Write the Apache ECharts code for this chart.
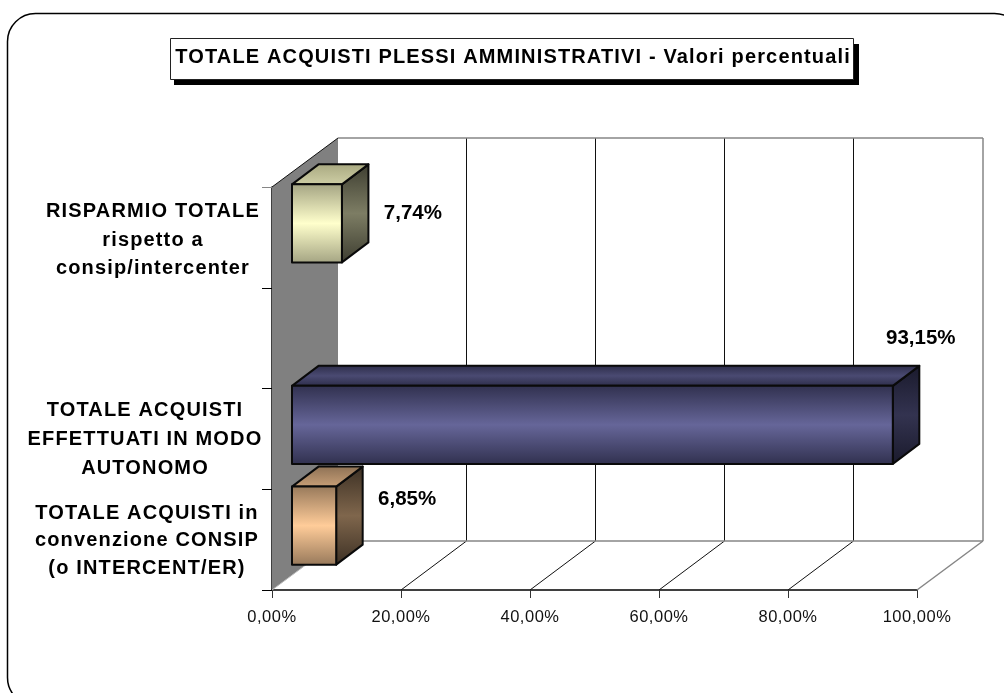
<!DOCTYPE html>
<html><head><meta charset="utf-8">
<style>html,body{margin:0;padding:0;background:#fff}#c{width:1004px;height:693px}</style>
<script src="https://cdn.jsdelivr.net/npm/echarts@6/dist/echarts.min.js"></script>
</head><body><div id="c"></div>
<script>
var chartTitle = 'TOTALE ACQUISTI PLESSI AMMINISTRATIVI - Valori percentuali';
var categories = [
  'RISPARMIO TOTALE\nrispetto a\nconsip/intercenter',
  '',
  'TOTALE ACQUISTI\nEFFETTUATI IN MODO\nAUTONOMO',
  'TOTALE ACQUISTI in\nconvenzione CONSIP\n(o INTERCENT/ER)'
];
var values = [7.74, null, 93.15, 6.85];
var xTicks = [0, 20, 40, 60, 80, 100];

var FONT = '"Liberation Sans", Arial, sans-serif';
var DEPTH = {dx: 66, dy: -49};
var BAR = {inset: 20, lift: -14, depthX: 26.5, depthY: -20, ratio: 0.775};
var LABEL_NUDGE = [[71, -10], null, [28, -87], [71, -26]];
var LINE_SHIFT = ['a', '', 'b', 'c'];
var PALETTE = [
  {front: ['#a3a382', '#ffffcc', '#a3a382'], top: ['#a8a880', '#cfcfa6'], side: ['#3d3d30', '#7d7d64', '#3d3d30']},
  null,
  {front: ['#30304e', '#666699', '#30304e'], top: ['#2c2c48', '#4a4a72', '#2c2c48'], side: ['#1a1a2c', '#333350', '#1a1a2c']},
  {front: ['#96785a', '#ffcc99', '#96785a'], top: ['#8c7054', '#c9a078'], side: ['#3c3024', '#7f664c', '#3c3024']}
];
// The reference text has the loose spacing of hinted GDI text: widen glyph runs, keeping each run centred.
var TRACKING = [[/bold 20px/, 1.15], [/16\.5px/, 0.5]];
(function () {
  var proto = CanvasRenderingContext2D.prototype, orig = proto.fillText;
  proto.fillText = function (text, x, y, maxW) {
    var s = 0;
    TRACKING.forEach(function (t) { if (!s && t[0].test(this.font)) s = t[1]; }, this);
    this.letterSpacing = s + 'px';
    if (this.textAlign === 'left' || this.textAlign === 'start') x -= (String(text).length - 1) * s / 2;
    if (maxW === undefined) orig.call(this, text, x, y); else orig.call(this, text, x, y, maxW);
    this.letterSpacing = '0px';
  };
})();
function grad(stops) {
  return new echarts.graphic.LinearGradient(0, 0, 0, 1, stops.map(function (c, i) {
    return {offset: i / (stops.length - 1), color: c};
  }));
}
function poly(pts, fill, stroke, w) {
  return {type: 'polygon', shape: {points: pts},
    style: {fill: fill, stroke: stroke || null, lineWidth: w === undefined ? 2 : w, lineJoin: 'round'}};
}
function line(a, b, color, w) {
  return {type: 'line', shape: {x1: a[0], y1: a[1], x2: b[0], y2: b[1]},
    style: {stroke: color, lineWidth: w || 1}};
}
function renderFrame(params, api) {
  var lastCat = categories.length - 1;
  var band = api.size([0, 1])[1];
  var topL = api.coord([0, 0]); topL = [topL[0], topL[1] - band / 2];
  var botL = api.coord([0, lastCat]); botL = [botL[0], botL[1] + band / 2];
  var botR = [api.coord([100, lastCat])[0], botL[1]];
  function back(p) { return [p[0] + DEPTH.dx, p[1] + DEPTH.dy]; }
  var gray = '#868686', ch = [];
  ch.push(poly([topL, back(topL), back(botL), botL], '#808080', null));
  xTicks.slice(1, -1).forEach(function (t) {
    var f = [api.coord([t, lastCat])[0], botL[1]];
    var bx = back(f)[0] - 0.5;
    ch.push(line(f, [bx, back(f)[1]], '#111'));
    ch.push(line([bx, back(f)[1]], [bx, back(topL)[1]], '#111'));
  });
  var backTopR = [botR[0] + DEPTH.dx, back(topL)[1]];
  ch.push(line(back(topL), backTopR, gray, 1.5));
  ch.push(line(backTopR, back(botR), gray, 1.5));
  ch.push(line(back(botL), back(botR), gray, 1.5));
  ch.push(line(botR, back(botR), gray, 1.5));
  ch.push(line(topL, back(topL), '#111'));
  ch.push(line(botL, back(botL), '#bbb'));
  ch.push(line([topL[0], topL[1] + 0.5], [topL[0] - 10, topL[1] + 0.5], gray));
  return {type: 'group', children: ch};
}
function renderBar(params, api) {
  var i = api.value(1), v = api.value(0), pal = PALETTE[i];
  var zero = api.coord([0, i]), end = api.coord([v, i]);
  var h = api.size([0, 1])[1] * BAR.ratio;
  var x0 = zero[0] + BAR.inset, x1 = end[0] + BAR.inset;
  var y0 = zero[1] + BAR.lift - h / 2, y1 = y0 + h;
  var dx = BAR.depthX, dy = BAR.depthY, K = '#0a0a0a';
  var nudge = LABEL_NUDGE[i];
  return {type: 'group', children: [
    poly([[x1, y0], [x1 + dx, y0 + dy], [x1 + dx, y1 + dy], [x1, y1]], grad(pal.side), K),
    poly([[x0, y0], [x0 + dx, y0 + dy], [x1 + dx, y0 + dy], [x1, y0]], grad(pal.top), K),
    poly([[x0, y0], [x1, y0], [x1, y1], [x0, y1]], grad(pal.front), K),
    {type: 'text', x: x1 + nudge[0], y: (y0 + y1) / 2 + nudge[1],
      style: {text: v.toFixed(2).replace('.', ',') + '%', font: 'bold 20.5px ' + FONT,
        fill: '#000', textAlign: 'center', textVerticalAlign: 'middle'}}
  ]};
}
var barData = [];
values.forEach(function (v, i) { if (v !== null) barData.push([v, i]); });

var base = {fontFamily: FONT, fontWeight: 'bold', fontSize: 20, color: '#000'};
var labelRich = {
  a: Object.assign({padding: [0, 0, 0, 12], lineHeight: 28.5}, base),
  b: Object.assign({padding: [0, 4, 0, 0], lineHeight: 29}, base),
  c: Object.assign({lineHeight: 27.5}, base),
  sa: {lineHeight: 6, fontSize: 1},
  sb: {lineHeight: 2, fontSize: 1},
  sc: {lineHeight: 2, fontSize: 1}
};

var chart = echarts.init(document.getElementById('c'), null, {renderer: 'canvas'});
chart.setOption({
  animation: false,
  backgroundColor: '#fff',
  title: {text: chartTitle, left: 208, top: 47,
    textStyle: {fontFamily: FONT, fontWeight: 'bold', fontSize: 20, color: '#000'}, padding: 0},
  graphic: [
    {type: 'rect', z: -10, shape: {x: 7.5, y: 13.5, width: 1015, height: 692, r: 28},
      style: {fill: '#fff', stroke: '#000', lineWidth: 1.5}},
    {type: 'rect', z: -9, shape: {x: 174, y: 44, width: 685, height: 41}, style: {fill: '#000'}},
    {type: 'rect', z: -8, shape: {x: 170.5, y: 38.5, width: 683, height: 41},
      style: {fill: '#fff', stroke: '#222', lineWidth: 1}}
  ],
  grid: {left: 272, top: 187, width: 645, height: 403, containLabel: false},
  xAxis: {type: 'value', min: 0, max: 100, interval: 20, position: 'bottom',
    axisLine: {show: true, onZero: false, lineStyle: {color: '#000', width: 1.5}},
    axisTick: {show: true, length: 8, lineStyle: {color: '#333'}},
    splitLine: {show: false},
    axisLabel: {margin: 19, fontFamily: FONT, fontSize: 16.5, color: '#111',
      formatter: function (v) { return v.toFixed(2).replace('.', ',') + '%'; }}},
  yAxis: {type: 'category', inverse: true, data: categories,
    axisLine: {show: true, lineStyle: {color: '#000', width: 1.5}},
    axisTick: {show: true, length: 10, alignWithLabel: false, lineStyle: {color: '#000'}},
    splitLine: {show: false},
    axisLabel: {margin: 125, align: 'center', interval: 0, rich: labelRich,
      formatter: function (v) {
        var tag = LINE_SHIFT[categories.indexOf(v)] || 'c';
        return v ? '{s' + tag + '| }\n' + v.split('\n').map(function (l) { return '{' + tag + '|' + l + '}'; }).join('\n') : '';
      }}},
  series: [
    {type: 'custom', name: 'frame', z: 2, clip: false, coordinateSystem: 'cartesian2d',
      renderItem: renderFrame, data: [[0, 0]], encode: {x: 0, y: 1}, silent: true},
    {type: 'custom', name: 'Valori percentuali', z: 3, clip: false, coordinateSystem: 'cartesian2d',
      renderItem: renderBar, data: barData, encode: {x: 0, y: 1}}
  ]
});
</script></body></html>
